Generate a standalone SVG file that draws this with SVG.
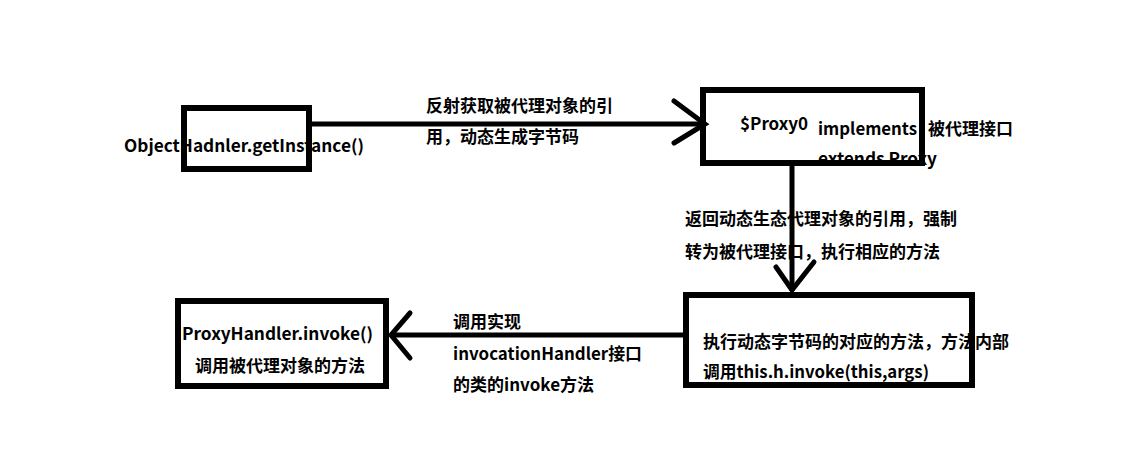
<svg xmlns="http://www.w3.org/2000/svg" width="1148" height="475" viewBox="0 0 1148 475">
<style>
.box{fill:none;stroke:#000;stroke-width:6}
.ln{fill:none;stroke:#000;stroke-width:5;stroke-linecap:butt}
.ah{fill:none;stroke:#000;stroke-width:5;stroke-linecap:round}
text{font-family:"Noto Sans CJK SC","Microsoft YaHei",sans-serif;font-weight:bold;font-size:17px;fill:#000}
</style>
<rect width="1148" height="475" fill="#fff"/>
<g id="connectors">
<line class="ln" x1="312" y1="124" x2="705" y2="124"/>
<polyline class="ah" points="674,101 705,124 674,143"/>
<line class="ln" x1="792" y1="166" x2="792" y2="291"/>
<polyline class="ah" points="776,267 792,290 814,262"/>
<line class="ln" x1="683" y1="335" x2="391" y2="335"/>
<polyline class="ah" points="410,313 391,335 410,358"/>
<text x="426" y="112">反射获取被代理对象的引</text>
<text x="426" y="143">用，动态生成字节码</text>
<text x="685" y="225">返回动态生态代理对象的引用，强制</text>
<text x="685" y="258">转为被代理接口，执行相应的方法</text>
<text x="453" y="328">调用实现</text>
<text x="453" y="360" textLength="189" lengthAdjust="spacingAndGlyphs">invocationHandler接口</text>
<text x="453" y="391" textLength="141" lengthAdjust="spacingAndGlyphs">的类的invoke方法</text>
</g>
<g id="node-objecthandler">
<text x="124" y="152" textLength="240" lengthAdjust="spacingAndGlyphs">ObjectHadnler.getInstance()</text>
<rect class="box" x="184" y="108" width="125" height="61"/>
</g>
<g id="node-proxy0">
<text x="740" y="130" textLength="68" lengthAdjust="spacingAndGlyphs">$Proxy0</text>
<text x="818" y="135" textLength="99" lengthAdjust="spacingAndGlyphs">implements</text>
<text x="928" y="135">被代理接口</text>
<text x="818" y="165" textLength="119" lengthAdjust="spacingAndGlyphs">extends Proxy</text>
<rect class="box" x="703" y="90" width="219" height="73"/>
</g>
<g id="node-bytecode">
<text x="703" y="348">执行动态字节码的对应的方法，方法内部</text>
<text x="703" y="378" textLength="226" lengthAdjust="spacingAndGlyphs">调用this.h.invoke(this,args)</text>
<rect class="box" x="686" y="295" width="286" height="90"/>
</g>
<g id="node-proxyhandler">
<rect class="box" x="178" y="301" width="208" height="85"/>
<text x="182" y="340" textLength="191" lengthAdjust="spacingAndGlyphs">ProxyHandler.invoke()</text>
<text x="195" y="372">调用被代理对象的方法</text>
</g>
</svg>
